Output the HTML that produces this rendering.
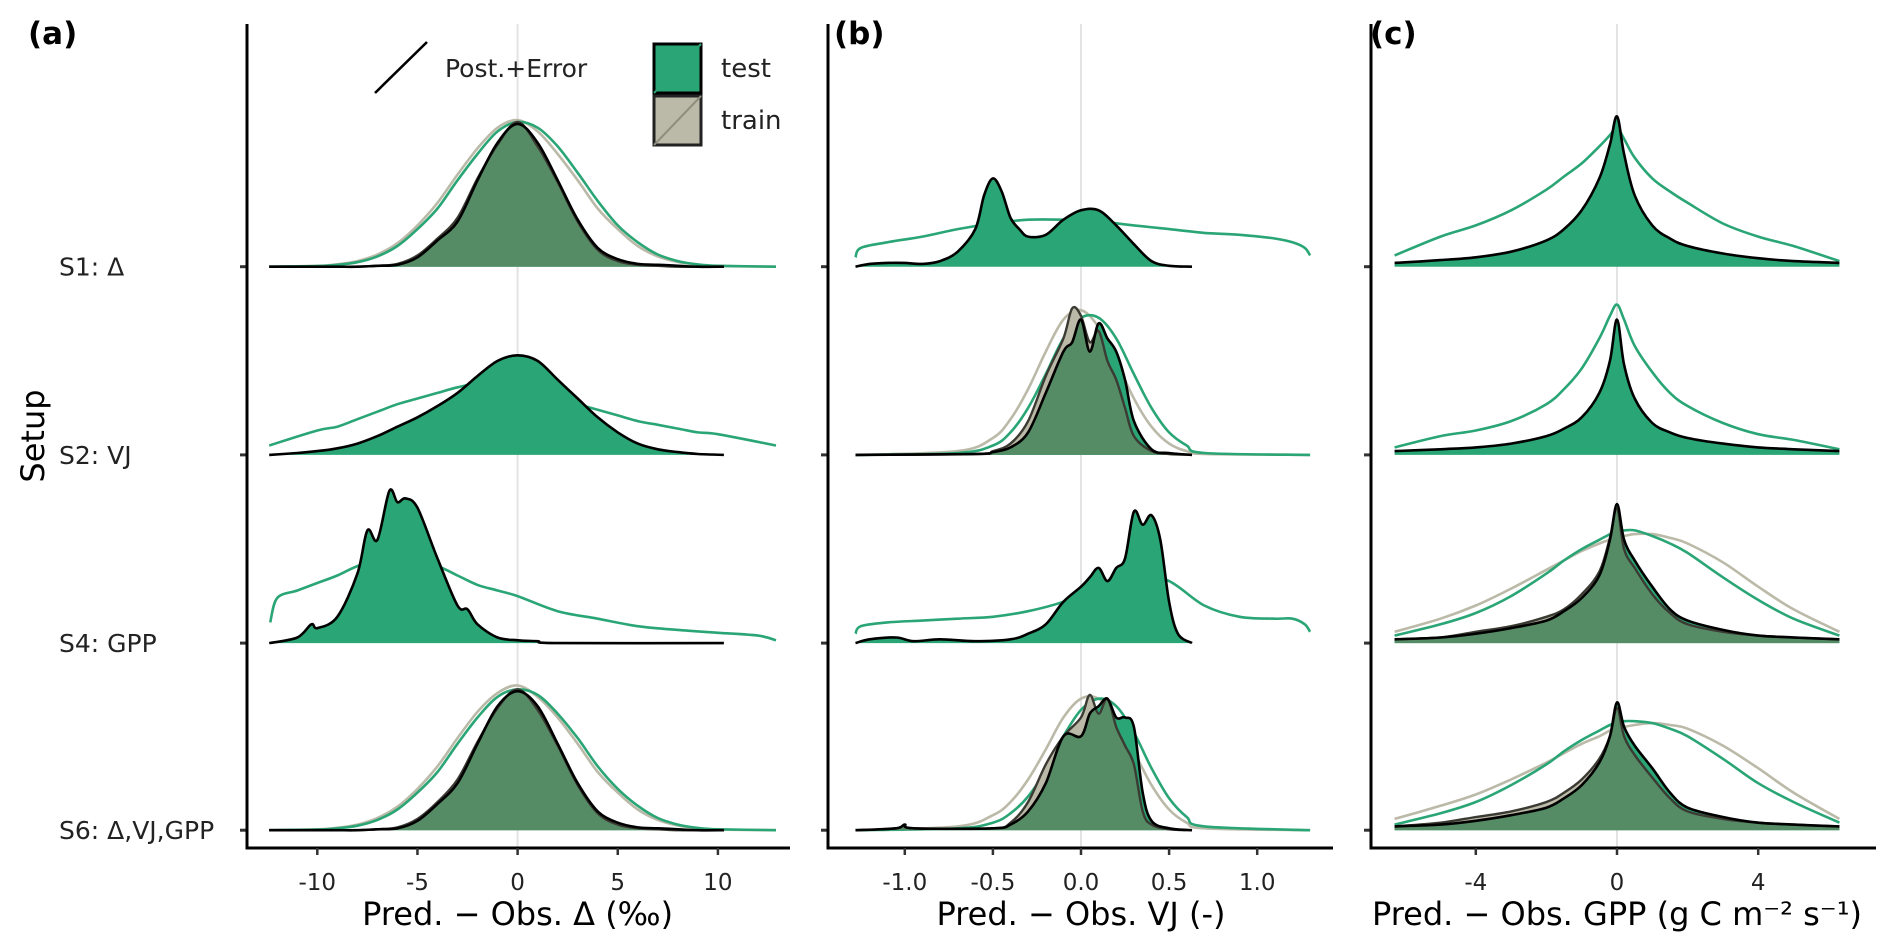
<!DOCTYPE html>
<html><head><meta charset="utf-8"><style>
html,body{margin:0;padding:0;background:#fff}
svg{display:block;font-family:"DejaVu Sans","Liberation Sans",sans-serif}
</style></head><body>
<svg id="chart" width="1892" height="948" viewBox="0 0 1892 948" xmlns="http://www.w3.org/2000/svg">
<defs id="defs"></defs>
<g id="root"></g>
</svg>
<script>
// ---------- data ----------
const rowLabels = ["S1: Δ","S2: VJ","S4: GPP","S6: Δ,VJ,GPP"];
const aTicks = [-10,-5,0,5,10];
const bTicks = [-1.0,-0.5,0.0,0.5,1.0];
const bTickLabels = ["-1.0","-0.5","0.0","0.5","1.0"];
const cTicks = [-4,0,4];

// panel a
const aGrid = [-12.4,-11,-10,-9,-8,-7,-6,-5,-4,-3,-2,-1,0,1,2,3,4,5,6,7,8,9,10.3];
const aPostGrid = [-12.4,-10,-9,-8,-7,-6,-5,-4,-3,-2,-1,0,1,2,3,4,5,6,7,8,9,10,12.9];
const a1TestObs = [0,0,0,0,0,0.005,0.01,0.05,0.14,0.24,0.46,0.66,0.76,0.66,0.46,0.25,0.1,0.04,0.015,0.01,0.005,0,0];
const a1TrainObs = [0,0,0,0,0,0.005,0.015,0.06,0.15,0.26,0.47,0.65,0.77,0.64,0.45,0.24,0.09,0.03,0.01,0.005,0,0,0];
const a1TestPost = [0,0.003,0.01,0.024,0.055,0.11,0.2,0.31,0.46,0.6,0.72,0.77,0.74,0.64,0.5,0.35,0.22,0.13,0.065,0.03,0.012,0.005,0];
const a1TrainPost = [0,0.005,0.013,0.03,0.065,0.125,0.22,0.34,0.49,0.63,0.74,0.78,0.72,0.6,0.46,0.31,0.2,0.11,0.055,0.025,0.01,0.003,0];
const a2TestObs = [0,0.01,0.02,0.035,0.06,0.1,0.15,0.2,0.26,0.33,0.42,0.5,0.53,0.5,0.4,0.3,0.2,0.12,0.06,0.03,0.015,0.005,0];
const a2TestPost = [0.05,0.13,0.15,0.19,0.23,0.27,0.3,0.33,0.36,0.38,0.38,0.36,0.33,0.3,0.27,0.24,0.21,0.18,0.16,0.14,0.12,0.11,0.05];
const a4Grid = [-12.4,-11,-10.3,-10,-9,-8,-7.5,-7,-6.4,-6,-5.6,-5,-4,-3,-2.5,-2,-1,0,1,2,10.3];
const a4TestObs = [0,0.03,0.1,0.08,0.14,0.37,0.6,0.55,0.81,0.75,0.77,0.72,0.45,0.2,0.18,0.1,0.03,0.015,0.01,0,0];
const a4PostGrid = [-12.35,-12,-11,-10,-9,-8,-7,-6,-5,-4,-3,-2,-1,0,2,4,6,8,10,12,12.9];
const a4TestPost = [0.11,0.24,0.28,0.32,0.36,0.41,0.44,0.44,0.43,0.41,0.36,0.31,0.28,0.25,0.17,0.13,0.09,0.07,0.055,0.04,0.015];
const a6TestObs = [0,0,0,0,0,0.005,0.01,0.05,0.14,0.25,0.46,0.66,0.74,0.66,0.46,0.25,0.1,0.04,0.015,0.01,0.005,0,0];
const a6TrainObs = [0,0,0,0,0,0.005,0.015,0.06,0.15,0.27,0.47,0.65,0.75,0.64,0.45,0.24,0.09,0.03,0.01,0.005,0,0,0];
const a6TestPost = [0,0.003,0.01,0.024,0.055,0.11,0.2,0.31,0.46,0.6,0.71,0.75,0.72,0.62,0.49,0.34,0.22,0.13,0.065,0.03,0.012,0.005,0];
const a6TrainPost = [0,0.005,0.013,0.03,0.065,0.125,0.22,0.34,0.49,0.63,0.73,0.77,0.71,0.6,0.46,0.31,0.2,0.11,0.055,0.025,0.01,0.003,0];

// panel b
const bGrid = [-1.28,-1.2,-1.1,-1.0,-0.9,-0.8,-0.7,-0.6,-0.55,-0.5,-0.45,-0.4,-0.35,-0.3,-0.2,-0.1,0,0.1,0.2,0.3,0.4,0.5,0.63];
const bPostGrid = [-1.28,-1.25,-1.1,-0.9,-0.7,-0.5,-0.3,-0.1,0.1,0.3,0.5,0.7,0.9,1.1,1.2,1.27,1.3];
const b1TestObs = [0,0.015,0.02,0.02,0.015,0.03,0.08,0.2,0.38,0.47,0.4,0.26,0.2,0.16,0.17,0.25,0.3,0.3,0.22,0.12,0.03,0.005,0];
const b1TestPost = [0.05,0.1,0.13,0.16,0.2,0.23,0.25,0.25,0.24,0.22,0.2,0.18,0.17,0.15,0.13,0.1,0.06];
const b2Grid = [-1.28,-0.6,-0.5,-0.4,-0.3,-0.2,-0.1,-0.05,0,0.05,0.1,0.15,0.2,0.25,0.3,0.4,0.5,0.63];
const b2TestObs = [0,0.005,0.015,0.04,0.12,0.33,0.55,0.6,0.72,0.55,0.7,0.62,0.55,0.4,0.18,0.03,0.01,0];
const b2TrainObs = [0,0.005,0.02,0.06,0.18,0.42,0.62,0.78,0.74,0.6,0.66,0.5,0.4,0.25,0.1,0.02,0.005,0];
const bPostGrid2 = [-1.28,-0.7,-0.5,-0.4,-0.3,-0.2,-0.1,0,0.1,0.2,0.3,0.4,0.5,0.6,0.7,1.3];
const b2TestPost = [0,0.01,0.05,0.12,0.25,0.43,0.62,0.73,0.73,0.62,0.43,0.25,0.12,0.05,0.01,0];
const b2TrainPost = [0,0.02,0.09,0.19,0.35,0.55,0.72,0.77,0.68,0.5,0.3,0.15,0.06,0.02,0.005,0];
const b4Grid = [-1.28,-1.2,-1.05,-0.95,-0.8,-0.6,-0.4,-0.3,-0.2,-0.1,0,0.05,0.1,0.15,0.2,0.25,0.3,0.35,0.4,0.45,0.5,0.55,0.63];
const b4TestObs = [0,0.02,0.03,0.01,0.02,0.01,0.02,0.05,0.1,0.22,0.3,0.35,0.4,0.33,0.4,0.45,0.7,0.63,0.68,0.55,0.22,0.05,0];
const b4TestPost = [0.05,0.09,0.11,0.12,0.13,0.14,0.17,0.22,0.3,0.38,0.33,0.2,0.14,0.13,0.13,0.1,0.06];
const b6Grid = [-1.28,-1.05,-1.0,-0.95,-0.5,-0.4,-0.3,-0.2,-0.1,0,0.05,0.1,0.15,0.2,0.25,0.3,0.35,0.4,0.5,0.63];
const b6TestObs = [0,0.01,0.03,0.01,0.01,0.03,0.1,0.25,0.5,0.5,0.62,0.66,0.7,0.6,0.6,0.55,0.2,0.05,0.01,0];
const b6TrainObs = [0,0.01,0.03,0.01,0.01,0.04,0.15,0.35,0.5,0.6,0.72,0.62,0.7,0.55,0.45,0.35,0.1,0.03,0.005,0];
const b6TestPost = [0,0.01,0.04,0.09,0.18,0.32,0.5,0.64,0.7,0.66,0.52,0.33,0.17,0.07,0.02,0];
const b6TrainPost = [0,0.02,0.08,0.15,0.27,0.43,0.6,0.7,0.7,0.6,0.42,0.24,0.11,0.04,0.01,0];

// panel c
const cGrid = [-6.3,-5,-4,-3,-2,-1.5,-1,-0.5,-0.2,0,0.2,0.5,1,1.5,2,3,4,5,6.3];
const c1TestObs = [0.02,0.035,0.05,0.08,0.14,0.2,0.3,0.47,0.65,0.8,0.6,0.38,0.22,0.15,0.11,0.07,0.045,0.03,0.02];
const c1TestPost = [0.06,0.16,0.22,0.3,0.41,0.48,0.55,0.64,0.7,0.74,0.68,0.58,0.47,0.4,0.34,0.23,0.16,0.11,0.03];
const c2TestObs = [0.02,0.03,0.04,0.06,0.1,0.14,0.2,0.33,0.5,0.72,0.48,0.3,0.17,0.12,0.09,0.06,0.04,0.03,0.02];
const c2TestPost = [0.04,0.1,0.13,0.18,0.27,0.35,0.46,0.62,0.74,0.8,0.72,0.58,0.44,0.33,0.26,0.17,0.11,0.08,0.03];
const c4TestObs = [0.02,0.03,0.05,0.08,0.12,0.17,0.24,0.36,0.55,0.74,0.55,0.44,0.3,0.18,0.12,0.07,0.04,0.03,0.02];
const c4TrainObs = [0.02,0.03,0.06,0.09,0.14,0.18,0.26,0.38,0.56,0.72,0.5,0.4,0.26,0.16,0.1,0.06,0.04,0.03,0.02];
const c4TestPost = [0.04,0.1,0.16,0.25,0.37,0.44,0.5,0.55,0.58,0.6,0.6,0.6,0.57,0.53,0.48,0.35,0.23,0.13,0.04];
const c4TrainPost = [0.06,0.13,0.2,0.29,0.39,0.44,0.49,0.53,0.55,0.56,0.57,0.58,0.58,0.56,0.53,0.43,0.3,0.18,0.06];
const c6TestObs = [0.02,0.03,0.05,0.08,0.12,0.17,0.24,0.36,0.5,0.68,0.55,0.45,0.33,0.2,0.12,0.07,0.04,0.03,0.02];
const c6TrainObs = [0.02,0.04,0.07,0.1,0.15,0.2,0.27,0.38,0.5,0.65,0.5,0.4,0.28,0.17,0.1,0.06,0.04,0.03,0.02];
const c6TestPost = [0.03,0.09,0.15,0.24,0.35,0.42,0.48,0.53,0.56,0.57,0.58,0.58,0.57,0.54,0.5,0.38,0.25,0.15,0.04];
const c6TrainPost = [0.06,0.13,0.19,0.27,0.36,0.41,0.46,0.5,0.53,0.54,0.55,0.56,0.57,0.56,0.54,0.45,0.33,0.2,0.06];

// ---------- layout ----------
const NS = "http://www.w3.org/2000/svg";
const root = document.getElementById("root");
const defs = document.getElementById("defs");
const baselines = [266.7, 454.9, 643.1, 830.2];
const rowUnit = 187.9;
const axisTop = 24, axisBottom = 848;
const GREEN = "#2aa575", GRAY = "#bbb9a7", MIX = "#558b65";
function yScale(row, v){ return baselines[row] - v*rowUnit; }
const panels = [
  {key:"a", axisX:247, axisEnd:790, zero:517.6, unit:20.03, title:"Pred. − Obs. Δ (‰)", ticks:aTicks, tickLabels:aTicks.map(String), label:"(a)", labelX:28},
  {key:"b", axisX:828, axisEnd:1333, zero:1081, unit:176.2, title:"Pred. − Obs. VJ (-)", ticks:bTicks, tickLabels:bTickLabels, label:"(b)", labelX:834},
  {key:"c", axisX:1371, axisEnd:1876, zero:1617, unit:35.3, title:"Pred. − Obs. GPP (g C m⁻² s⁻¹)", ticks:cTicks, tickLabels:cTicks.map(String), label:"(c)", labelX:1370}
];
function xScale(p, v){ return p.zero + v*p.unit; }

function el(tag, attrs, parent){
  const e = document.createElementNS(NS, tag);
  for (const k in attrs) e.setAttribute(k, attrs[k]);
  (parent||root).appendChild(e);
  return e;
}
function smoothPath(pts){
  let d = "M"+pts[0][0].toFixed(1)+","+pts[0][1].toFixed(1);
  for (let i=0;i<pts.length-1;i++){
    const p0=pts[Math.max(0,i-1)], p1=pts[i], p2=pts[i+1], p3=pts[Math.min(pts.length-1,i+2)];
    const c1x=p1[0]+(p2[0]-p0[0])/6, c1y=p1[1]+(p2[1]-p0[1])/6;
    const c2x=p2[0]-(p3[0]-p1[0])/6, c2y=p2[1]-(p3[1]-p1[1])/6;
    d += " C"+c1x.toFixed(1)+","+c1y.toFixed(1)+" "+c2x.toFixed(1)+","+c2y.toFixed(1)+" "+p2[0].toFixed(1)+","+p2[1].toFixed(1);
  }
  return d;
}
function pointsFor(p,row,xs,ys){ return xs.map((x,i)=>[xScale(p,x), Math.min(baselines[row], yScale(row,ys[i]))]); }
function areaD(p,row,xs,ys){
  const pts = pointsFor(p,row,xs,ys);
  return smoothPath(pts)+" L"+pts[pts.length-1][0].toFixed(1)+","+baselines[row]+" L"+pts[0][0].toFixed(1)+","+baselines[row]+" Z";
}

const rowsByPanel = {
  a:[[aPostGrid,a1TestPost,a1TrainPost,aGrid,a1TestObs,a1TrainObs],
     [aPostGrid,a2TestPost,null,aGrid,a2TestObs,null],
     [a4PostGrid,a4TestPost,null,a4Grid,a4TestObs,null],
     [aPostGrid,a6TestPost,a6TrainPost,aGrid,a6TestObs,a6TrainObs]],
  b:[[bPostGrid,b1TestPost,null,bGrid,b1TestObs,null],
     [bPostGrid2,b2TestPost,b2TrainPost,b2Grid,b2TestObs,b2TrainObs],
     [bPostGrid,b4TestPost,null,b4Grid,b4TestObs,null],
     [bPostGrid2,b6TestPost,b6TrainPost,b6Grid,b6TestObs,b6TrainObs]],
  c:[[cGrid,c1TestPost,null,cGrid,c1TestObs,null],
     [cGrid,c2TestPost,null,cGrid,c2TestObs,null],
     [cGrid,c4TestPost,c4TrainPost,cGrid,c4TestObs,c4TrainObs],
     [cGrid,c6TestPost,c6TrainPost,cGrid,c6TestObs,c6TrainObs]]
};

let clipId = 0;
panels.forEach(p=>{
  const g = el("g",{});
  
  
  const zl = el("line",{x1:p.zero,x2:p.zero,y1:axisTop,y2:axisBottom,stroke:"#e3e3e3","stroke-width":2},g);
  
  
  rowsByPanel[p.key].forEach((r,row)=>{
    const [pg,tp,trp,og,to,tro] = r;
    const rg = el("g",{},g);
    
    
    if (trp){
      const l = el("path",{d:smoothPath(pointsFor(p,row,pg,trp)),fill:"none",stroke:GRAY,"stroke-width":2.6},rg);
      
      
    }
    const tl = el("path",{d:smoothPath(pointsFor(p,row,pg,tp)),fill:"none",stroke:GREEN,"stroke-width":2.6},rg);
    
    
    if (tro){
      const trD = areaD(p,row,og,tro);
      const tf = el("path",{d:trD,fill:GRAY,stroke:"none"},rg);
      
      
      const teD = areaD(p,row,og,to);
      const te = el("path",{d:teD,fill:GREEN,stroke:"none"},rg);
      
      
      const cid = "clip"+(clipId++);
      const cp = el("clipPath",{id:cid},defs);
      el("path",{d:trD},cp);
      const mx = el("path",{d:teD,fill:MIX,stroke:"none","clip-path":"url(#"+cid+")"},rg);
      
      
      const to2 = el("path",{d:smoothPath(pointsFor(p,row,og,tro)),fill:"none",stroke:"#3b3a33","stroke-width":2.4},rg);
      
      
      const te2 = el("path",{d:smoothPath(pointsFor(p,row,og,to)),fill:"none",stroke:"#000","stroke-width":2.6},rg);
      
      
    } else {
      const te = el("path",{d:areaD(p,row,og,to),fill:GREEN,stroke:"none"},rg);
      
      
      const te2 = el("path",{d:smoothPath(pointsFor(p,row,og,to)),fill:"none",stroke:"#000","stroke-width":2.6},rg);
      
      
    }
    const tk = el("line",{x1:p.axisX-7,x2:p.axisX,y1:baselines[row],y2:baselines[row],stroke:"#333","stroke-width":3},g);
    
    
  });
  const ya = el("line",{x1:p.axisX,x2:p.axisX,y1:axisTop,y2:axisBottom+1.5,stroke:"#000","stroke-width":3},g);
  
  
  const xa = el("line",{x1:p.axisX-1.5,x2:p.axisEnd,y1:axisBottom,y2:axisBottom,stroke:"#000","stroke-width":3},g);
  
  
  p.ticks.forEach((t,i)=>{
    const x = xScale(p,t);
    const tm = el("line",{x1:x,x2:x,y1:axisBottom,y2:axisBottom+7,stroke:"#333","stroke-width":2.5},g);
    
    
    const tt = el("text",{x:x,y:890,"text-anchor":"middle","font-size":23,fill:"#222"},g);
    tt.textContent = p.tickLabels[i];
    
    
  });
  const ti = el("text",{x:p.zero,y:925,"text-anchor":"middle","font-size":32,fill:"#000"},g);
  ti.textContent = p.title;
  
  
  const pl = el("text",{x:p.labelX,y:44,"font-size":31,"font-weight":"bold",fill:"#000"},g);
  pl.textContent = p.label;
  
  
});

rowLabels.forEach((lab,i)=>{
  const t = el("text",{x:59,y:baselines[i]+9,"font-size":25,fill:"#222"});
  t.textContent = lab;
  
  
});
const yt = el("text",{x:0,y:0,"font-size":32,fill:"#000","text-anchor":"middle",transform:"translate(44,436) rotate(-90)"});
yt.textContent = "Setup";



// legend
const lg = el("g",{});


const ll = el("line",{x1:375,y1:93,x2:427,y2:42,stroke:"#000","stroke-width":2.6},lg);


const lt = el("text",{x:445,y:77,"font-size":25,fill:"#222"},lg);
lt.textContent = "Post.+Error";


const s1 = el("rect",{x:654,y:44,width:47,height:49,fill:GREEN,stroke:"#000","stroke-width":3},lg);


const s1l = el("line",{x1:654,y1:93,x2:701,y2:44,stroke:GREEN,"stroke-width":2},lg);


const s2 = el("rect",{x:654,y:96,width:47,height:49,fill:GRAY,stroke:"#222","stroke-width":3},lg);


const s2l = el("line",{x1:654,y1:145,x2:701,y2:96,stroke:"#8f8d7d","stroke-width":2},lg);


const t1 = el("text",{x:721,y:77,"font-size":26,fill:"#222"},lg);
t1.textContent = "test";


const t2 = el("text",{x:721,y:129,"font-size":26,fill:"#222"},lg);
t2.textContent = "train";


</script>
</body></html>
